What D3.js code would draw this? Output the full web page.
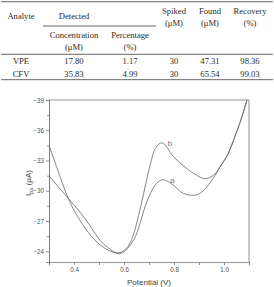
<!DOCTYPE html>
<html>
<head>
<meta charset="utf-8">
<script src="https://cdn.jsdelivr.net/npm/d3@7"></script>
<style>
    body { margin: 0; background: #fff; }
    svg { display: block; }
    .tbl text { font-family: "Liberation Serif", "Times New Roman", serif; font-size: 8.6px; fill: #2a2a2a; }
    .rule { stroke: #555; stroke-width: 0.9; }
    .axis path, .axis line { stroke: #777; stroke-width: 0.8; }
    .axis text { font-family: "Liberation Sans", Arial, sans-serif; font-size: 6.3px; fill: #555; }
    .line { fill: none; stroke: #666; stroke-width: 0.8; }
    .lbl { font-family: "Liberation Sans", Arial, sans-serif; font-size: 8px; fill: #777; }
</style>
</head>
<body>
<div id="chart"></div>
<script>
// table data
var analytes = ["VPE", "CFV"];
var concentration = ["17.80", "35.83"];
var percentage = ["1.17", "4.99"];
var spiked = ["30", "30"];
var found = ["47.31", "65.54"];
var recovery = ["98.36", "99.03"];

// voltammogram data, potential (V) / current (uA)
var potentialA = [0.300, 0.340, 0.377, 0.420, 0.457, 0.504, 0.545, 0.580, 0.615, 0.648, 0.691, 0.724, 0.756, 0.790, 0.837, 0.877, 0.910, 0.940, 0.965, 0.984, 1.015, 1.047, 1.075, 1.094];
var currentA = [-31.5, -30.3, -29.25, -28.0, -26.8, -25.1, -24.2, -23.75, -24.3, -25.6, -28.9, -30.55, -31.1, -30.7, -29.75, -29.55, -29.85, -30.65, -31.55, -32.37, -33.6, -35.6, -37.6, -39.2];
var potentialB = [0.300, 0.330, 0.377, 0.431, 0.484, 0.530, 0.575, 0.610, 0.637, 0.671, 0.701, 0.725, 0.752, 0.797, 0.837, 0.880, 0.925, 0.955, 0.972, 0.984, 1.015, 1.047, 1.075, 1.094];
var currentB = [-34.5, -32.4, -29.25, -26.8, -25.1, -24.2, -23.85, -24.3, -25.6, -28.9, -32.2, -34.2, -34.75, -33.4, -32.5, -31.7, -31.2, -31.5, -31.9, -32.37, -33.6, -35.6, -37.6, -39.2];

var yTicks = [-39, -36, -33, -30, -27, -24];
var yMinor = [-37.5, -34.5, -31.5, -28.5, -25.5];
var xTicks = [0.3, 0.4, 0.5, 0.6, 0.7, 0.8, 0.9, 1.0, 1.1];
var xLabels = ["", "0.4", "", "0.6", "", "0.8", "", "1.0", ""];

function init() {
    const w = 274;
    const h = 287;

    var svg = d3.select("#chart").append("svg").attr("width", w).attr("height", h);

    // ---- table ----
    var tbl = svg.append("g").attr("class", "tbl");
    var col = d3.scaleOrdinal()
        .domain(["analyte", "conc", "perc", "spiked", "found", "recovery"])
        .range([21, 74, 130, 174, 210, 250]);

    [1.7, 54.3, 79.7].forEach((yy) => {
        tbl.append("line").attr("class", "rule")
            .attr("x1", 1).attr("x2", 273).attr("y1", yy).attr("y2", yy);
    });
    tbl.append("line").attr("class", "rule")
        .attr("x1", 43).attr("x2", 156).attr("y1", 26).attr("y2", 26);

    var header = [
        ["analyte", 15.7, "Analyte"],
        ["conc", 15.7, "Detected"],
        ["spiked", 11, "Spiked"], ["spiked", 22.7, "(\u03bcM)"],
        ["found", 11, "Found"], ["found", 22.7, "(\u03bcM)"],
        ["recovery", 11, "Recovery"], ["recovery", 22.7, "(%)"],
        ["conc", 35, "Concentration"], ["conc", 46.7, "(\u03bcM)"],
        ["perc", 35, "Percentage"], ["perc", 46.7, "(%)"]
    ];
    tbl.selectAll(".hd").data(header).enter().append("text")
        .attr("x", (d) => { return col(d[0]) })
        .attr("y", (d) => { return d[1] })
        .attr("dy", "0.35em")
        .attr("text-anchor", "middle")
        .text((d) => { return d[2] });

    var rowY = [61.3, 74.3];
    var cols = [["analyte", analytes], ["conc", concentration], ["perc", percentage],
                ["spiked", spiked], ["found", found], ["recovery", recovery]];
    cols.forEach((c) => {
        tbl.selectAll(null).data(c[1]).enter().append("text")
            .attr("x", col(c[0]))
            .attr("y", (d, i) => { return rowY[i] })
            .attr("dy", "0.35em")
            .attr("text-anchor", "middle")
            .text((d) => { return d });
    });

    // ---- chart ----
    var xScale = d3.scaleLinear().domain([0.3, 1.1]).range([49, 249]);
    var yScale = d3.scaleLinear().domain([-22.94, -39]).range([262, 100]);

    var yAxis = d3.axisLeft(yScale).tickValues(yTicks).tickSize(3).tickPadding(2)
        .tickFormat(d3.format("d"));
    var yMinorAxis = d3.axisLeft(yScale).tickValues(yMinor).tickSize(2).tickFormat("");
    var xAxis = d3.axisBottom(xScale).tickValues(xTicks).tickSize(3).tickPadding(3)
        .tickFormat((d, i) => { return xLabels[i] });

    svg.append("g").attr("class", "axis")
        .attr("transform", "translate(49,0)")
        .call(yAxis);
    svg.append("g").attr("class", "axis")
        .attr("transform", "translate(49,0)")
        .call(yMinorAxis);
    svg.append("g").attr("class", "axis")
        .attr("transform", "translate(0,262)")
        .call(xAxis);

    // frame top / right
    svg.append("line").attr("class", "rule").style("stroke", "#777").style("stroke-width", 0.8)
        .attr("x1", 49).attr("x2", 249).attr("y1", 100).attr("y2", 100);
    svg.append("line").attr("class", "rule").style("stroke", "#777").style("stroke-width", 0.8)
        .attr("x1", 249).attr("x2", 249).attr("y1", 100).attr("y2", 262);

    svg.append("clipPath").attr("id", "clip").append("rect")
        .attr("x", 49).attr("y", 100).attr("width", 200).attr("height", 162);

    var line = d3.line()
        .x((d) => { return xScale(d[0]) })
        .y((d) => { return yScale(d[1]) })
        .curve(d3.curveMonotoneX);

    var seriesA = d3.zip(potentialA, currentA);
    var seriesB = d3.zip(potentialB, currentB);

    svg.append("path").datum(seriesA).attr("class", "line")
        .attr("clip-path", "url(#clip)").attr("d", line);
    svg.append("path").datum(seriesB).attr("class", "line")
        .attr("clip-path", "url(#clip)").attr("d", line);

    svg.append("text").attr("class", "lbl")
        .attr("x", xScale(0.793)).attr("y", yScale(-31.05))
        .attr("dy", "0.35em").attr("text-anchor", "middle").text("a");
    svg.append("text").attr("class", "lbl")
        .attr("x", xScale(0.784)).attr("y", yScale(-34.74))
        .attr("dy", "0.35em").attr("text-anchor", "middle").text("b");

    // axis titles
    svg.append("text").attr("class", "lbl").style("fill", "#444")
        .attr("x", 149).attr("y", 284.5).attr("text-anchor", "middle")
        .text("Potential (V)");

    var yl = svg.append("text").attr("class", "lbl").style("fill", "#444")
        .attr("transform", "translate(31,183) rotate(-90)")
        .attr("text-anchor", "middle");
    yl.append("tspan").text("I");
    yl.append("tspan").attr("font-size", "5.5px").attr("dy", "2").text("pa");
    yl.append("tspan").attr("dy", "-2").text(" (\u03bcA)");
}

window.onload = init();
</script>
</body>
</html>
